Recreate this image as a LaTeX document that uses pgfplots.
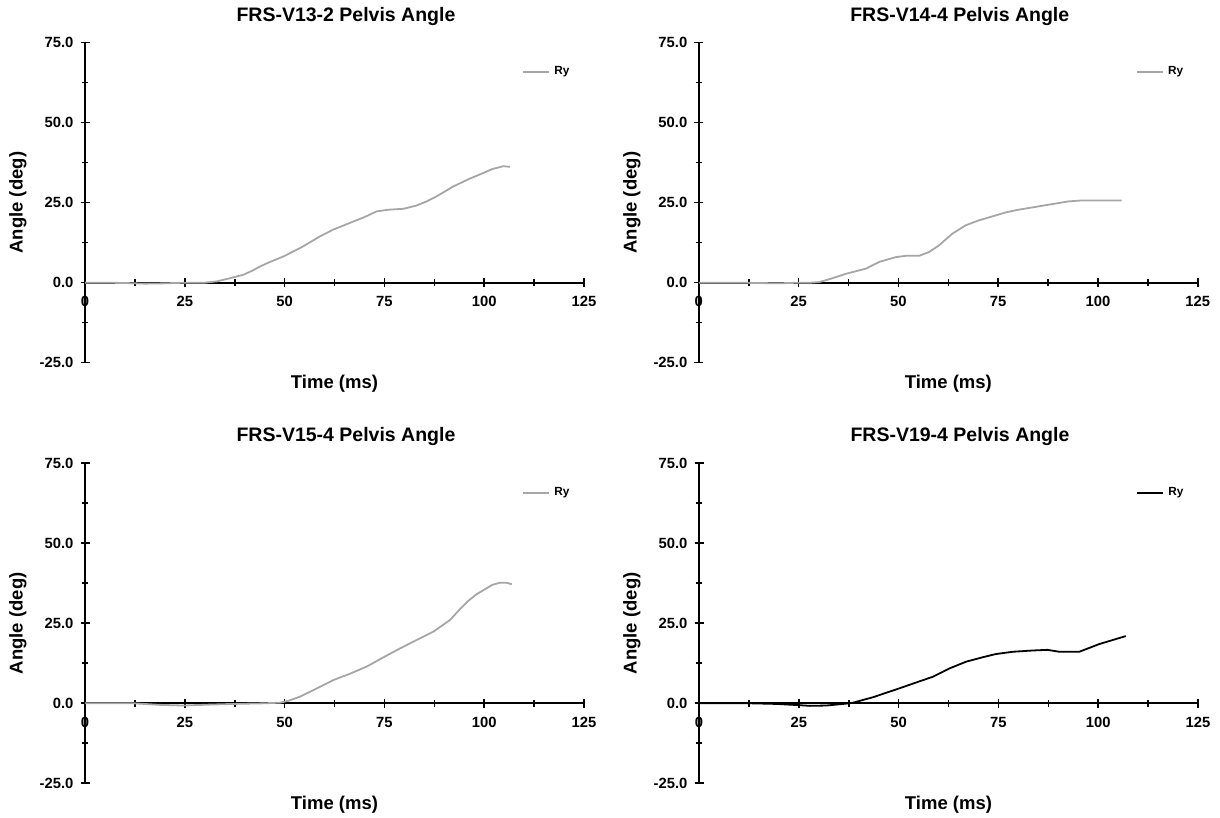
\documentclass[border=0pt]{standalone}
\usepackage{pgfplots}
\pgfplotsset{compat=1.18}
\usepackage{fontspec}
\setmainfont{Liberation Sans}
\definecolor{lgray}{HTML}{A6A6A6}
\pgfplotsset{
  panel/.style={
    scale only axis, width=249.5pt, height=160pt,
    xmin=0, xmax=125, ymin=-25, ymax=75,
    axis x line=middle, axis y line=left,
    x axis line style={-, line width=1pt}, y axis line style={-, line width=1pt},
    hide obscured x ticks=false, hide obscured y ticks=false,
    xtick={0,25,...,125}, ytick={-25,0,...,75},
    minor x tick num=1, minor y tick num=1,
    tick align=center,
    major tick length=4.5pt, minor tick length=3.3pt,
    every tick/.style={black, line width=0.8pt},
    every minor tick/.style={black, line width=0.8pt},
    /pgf/number format/assume math mode=true,
    ticklabel style={font=\fontsize{7.4}{8}\selectfont\bfseries},
    yticklabel style={/pgf/number format/.cd, fixed, fixed zerofill, precision=1},
    xticklabel style={yshift=-1pt, /pgf/number format/.cd, fixed, precision=0},
    xlabel={Time (ms)}, ylabel={Angle (deg)},
    label style={font=\fontsize{9.25}{10}\selectfont\bfseries},
    xlabel style={at={(axis description cs:0.5,-0.066)}, anchor=center},
    ylabel style={at={(axis description cs:-0.1343,0.5)}, anchor=center},
    every axis title shift=0pt,
    title style={font=\fontsize{9.75}{11}\selectfont\bfseries, at={(axis description cs:0.523,1.083)}, anchor=center},
    legend style={draw=none, fill=none, at={(axis description cs:0.864,0.9075)}, anchor=west,
      font=\fontsize{5.9}{7}\selectfont\bfseries},
    legend image code/.code={\draw[#1] (0pt,0pt) -- (13pt,0pt);},
    legend cell align=left,
  }
}
\begin{document}
\begin{tikzpicture}
\path[use as bounding box] (0,0) rectangle (610pt,409pt);
% top-left
\begin{axis}[panel, at={(42.5pt,227.65pt)}, anchor=south west, title={FRS-V13-2 Pelvis Angle}]
\addplot[lgray, line width=0.9pt] coordinates {
(0,0) (5,0) (10,-0.1) (15,-0.3) (20,-0.2) (25,0) (30,0) (33,0.4) (36,1.3) (39.7,2.5) (42,3.8) (43.9,5.1) (46,6.3) (49.7,8.2) (54,10.9) (58.9,14.5) (62.2,16.6) (66.4,18.7) (70,20.5) (73.1,22.3) (76,22.8) (79.8,23.1) (83,24.1) (85.6,25.4) (88.1,27) (92.3,30.1) (96,32.3) (99.8,34.3) (102,35.5) (104.8,36.4) (106.5,36.2)
};
\addlegendentry{Ry}
\end{axis}
% top-right
\begin{axis}[panel, at={(349.4pt,227.65pt)}, anchor=south west, title={FRS-V14-4 Pelvis Angle}]
\addplot[lgray, line width=0.9pt] coordinates {
(0,0) (10,0) (20,-0.2) (25,0) (28,0) (30.2,0.2) (33,1.2) (36.9,2.8) (41.9,4.4) (45.2,6.5) (49.4,8.0) (51.9,8.4) (55.2,8.4) (57.7,9.6) (60.2,11.7) (63.5,15.3) (66.8,17.9) (70.2,19.5) (74.3,21.0) (77,22.0) (80.1,22.8) (86.8,24.2) (92.6,25.4) (95.9,25.7) (105.9,25.7)
};
\addlegendentry{Ry}
\end{axis}
% bottom-left
\begin{axis}[panel, at={(42.5pt,17.35pt)}, anchor=south west, title={FRS-V15-4 Pelvis Angle}]
\addplot[lgray, line width=0.9pt] coordinates {
(0,0) (10,0) (12.2,0) (18.9,-0.5) (24.7,-0.7) (31.4,-0.4) (37.2,-0.2) (45,0) (48.9,0.2) (51,0.8) (53.9,2.1) (58,4.6) (62.3,7.3) (66.5,9.3) (70.6,11.5) (74.8,14.4) (79,17.2) (83.1,19.8) (87.3,22.4) (91.4,26.0) (94,29.5) (96,32) (98,34) (100,35.5) (102,37) (104,37.7) (105.5,37.7) (106.9,37.2)
};
\addlegendentry{Ry}
\end{axis}
% bottom-right
\begin{axis}[panel, at={(349.5pt,17.35pt)}, anchor=south west, title={FRS-V19-4 Pelvis Angle}]
\addplot[black, line width=0.9pt] coordinates {
(0,0) (12.75,0) (19.4,-0.2) (25.25,-0.6) (27.75,-0.8) (31.9,-0.7) (36.9,-0.1) (38.6,0.2) (43.6,1.9) (50.25,4.7) (54.4,6.5) (58.6,8.3) (62.75,10.9) (66.9,13.0) (71.1,14.4) (74.4,15.4) (78.6,16.1) (83.6,16.5) (87.3,16.7) (90.25,16.1) (95.25,16.1) (100.25,18.5) (106.9,21.0)
};
\addlegendentry{Ry}
\end{axis}
\end{tikzpicture}
\end{document}
